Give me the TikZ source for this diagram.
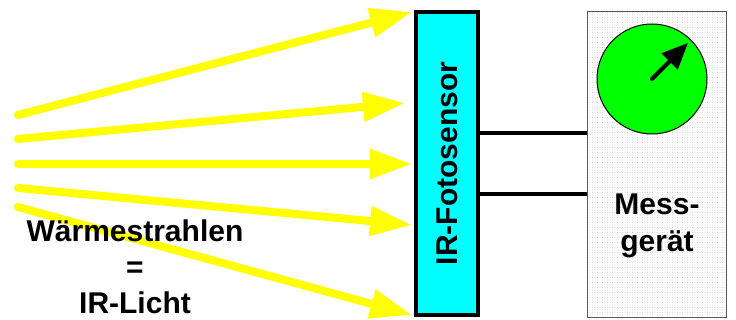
\documentclass[tikz,border=0pt]{standalone}
\usepackage{fontspec}
\setmainfont{Liberation Sans}
\usetikzlibrary{
    positioning,
    arrows.meta,
    patterns.meta
    }
\definecolor{raycolor}{RGB}{255,255,0}
\definecolor{sensorcolor}{RGB}{0,255,255}
\definecolor{dialcolor}{RGB}{0,255,0}

\begin{document}
\begin{tikzpicture}[x=1pt, y=1pt]
\tikzset{ray/.style =
        {
            line width=8pt,
            raycolor,
            line cap=round,
            -{Triangle[length=42pt, width=28pt]}
        }
}

\tikzset{sensor/.style =
        {
            rectangle,
            line width=4pt,
            draw=black,
            fill=sensorcolor,
            minimum width=62pt,
            minimum height=303pt,
            inner sep=0pt
        }
}

\tikzset{meter/.style =
        {
            rectangle,
            draw=gray!70!black,
            line width=0.8pt,
            preaction={fill=white},
            pattern={Dots[distance=2.5pt, radius=0.45pt]},
            pattern color=gray!55,
            minimum width=139pt,
            minimum height=306pt,
            inner sep=0pt
        }
}

\tikzset{dial/.style =
        {
            circle,
            draw=black,
            line width=1pt,
            fill=dialcolor,
            minimum size=110pt,
            inner sep=0pt
        }
}

\tikzset{needle/.style = {
            line width=4pt,
            line cap=round,
            -{Triangle[length=26pt, width=22pt]}
        }
}

\tikzset{wire/.style = {
            line width=3.5pt
        }
}

\tikzset{caption/.style = {
            font=\fontsize{30}{36}\selectfont\bfseries,
            align=center,
            inner sep=0pt
        }
}

		\useasboundingbox (0,0) rectangle (736,320);

		\node[sensor] (sensor) at (447,156.5) {};
		\node[meter] (meter) at (656.5,156) {};
		\node[dial] (dial) at (652,241) {};

		% rays
		\foreach \n / \sy / \ex / \ey in
			{1/205/412/308,
				2/181/405/217,
				3/156/412/156,
				4/132/412/95,
				5/113/412/5}
			{
				\coordinate (src-\n) at (18,\sy);
				\coordinate (dst-\n) at (\ex,\ey);
				\draw [ray] (src-\n) -- (dst-\n);
			}

		\node[caption] (heat) at (135,53) {Wärmestrahlen\\=\\IR-Licht};

		\node[caption, rotate=90] (sensor-label) at (sensor.center) {IR-Fotosensor};

		% wires
		\coordinate (w1) at (0,187);
		\coordinate (w2) at (0,126);
		\draw [wire] (sensor.east |- w1) -- (meter.west |- w1);
		\draw [wire] (sensor.east |- w2) -- (meter.west |- w2);

		\coordinate (needle-tip) at (688,277);
		\draw [needle] (dial.center) -- (needle-tip);

		\node[caption, font=\fontsize{30}{37}\selectfont\bfseries] (meter-label) at (657,94) {Mess-\\gerät};

	\end{tikzpicture}
\end{document}
